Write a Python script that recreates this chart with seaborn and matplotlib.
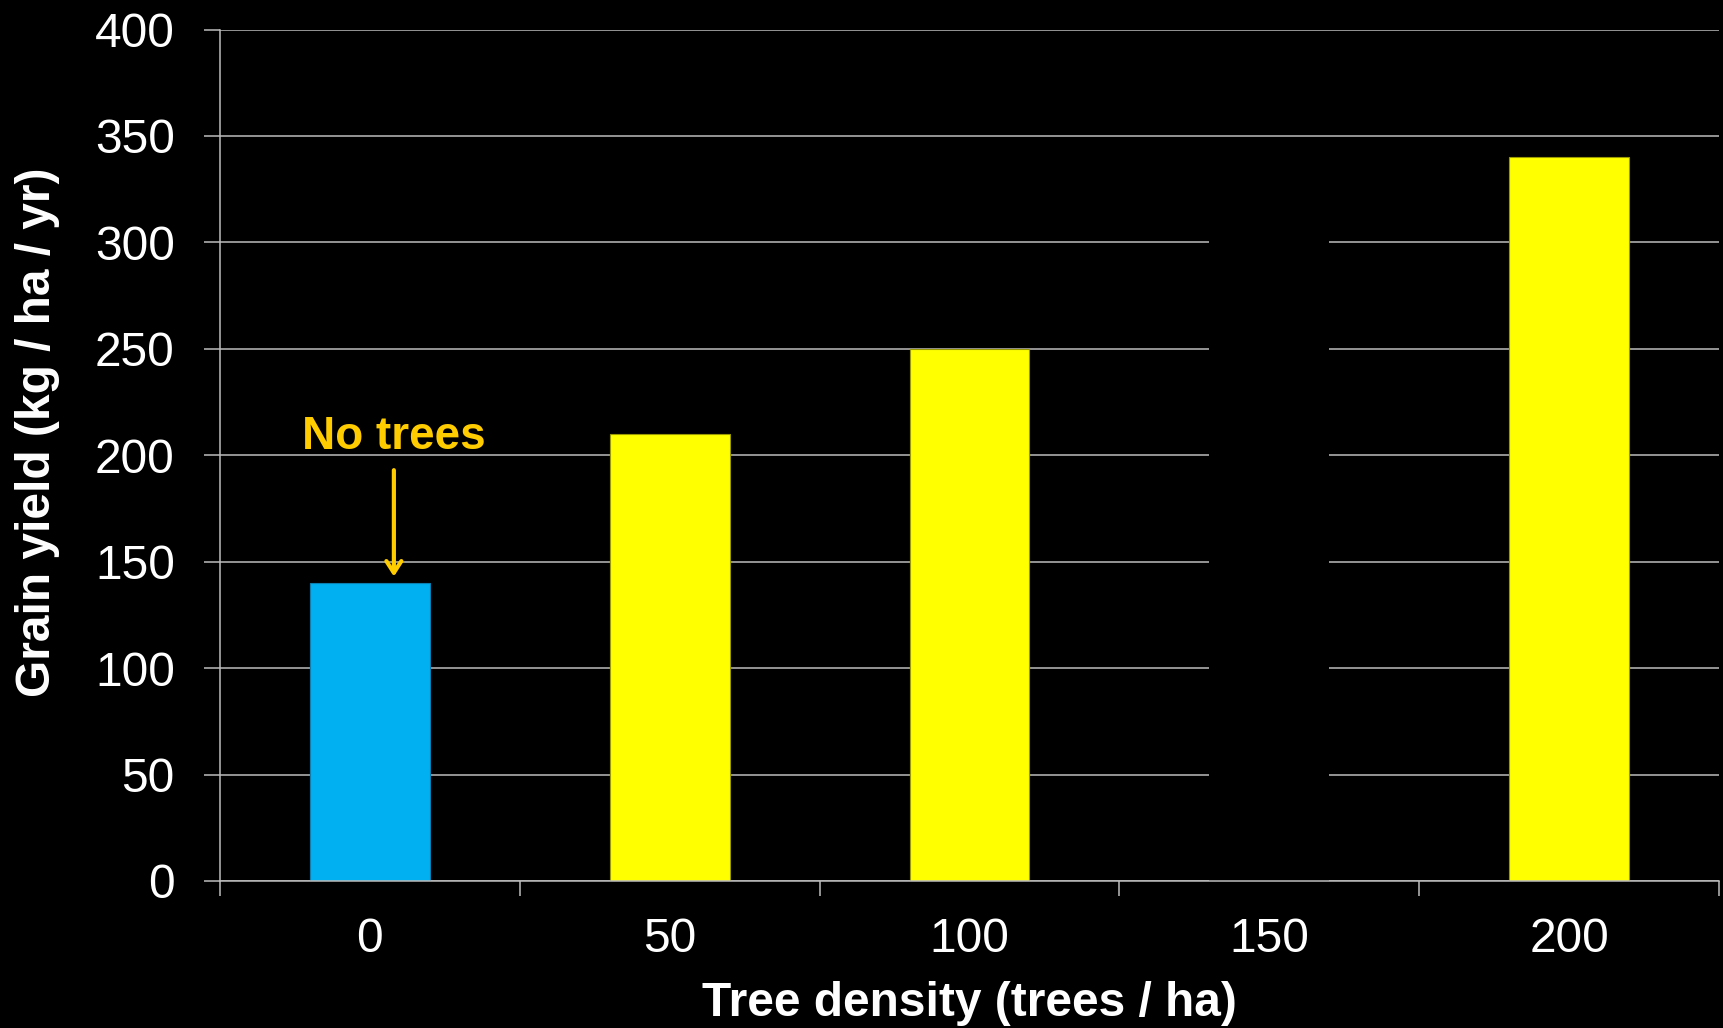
import matplotlib
matplotlib.use("Agg")
import matplotlib.pyplot as plt
import seaborn as sns
import pandas as pd
from matplotlib.ticker import FixedLocator

# Data
densities = ["0", "50", "100", "150", "200"]
grain_yield = [140, 210, 250, 320, 340]
bar_colors = ["#00B0F0", "#FFFF00", "#FFFF00", "#000000", "#FFFF00"]
y_ticks = [0, 50, 100, 150, 200, 250, 300, 350, 400]

sns.set_theme(style="dark")
plt.rcParams["font.family"] = ["Liberation Sans", "DejaVu Sans"]

df = pd.DataFrame({"density": densities, "yield": grain_yield})

fig = plt.figure(figsize=(17.24, 10.28), dpi=100, facecolor="black")
ax = fig.add_axes([0.1276, 0.143, 0.8695, 0.8283])
ax.set_facecolor("black")

sns.barplot(data=df, x="density", y="yield", hue="density",
            palette=bar_colors, width=0.4, legend=False, ax=ax,
            saturation=1, zorder=2)

for patch, col in zip(ax.patches, bar_colors):
    if col == "#FFFF00":
        patch.set_edgecolor("#9a9a00")
        patch.set_linewidth(0.8)
    elif col == "#00B0F0":
        patch.set_edgecolor("#0a7fb0")
        patch.set_linewidth(0.8)
    else:
        patch.set_edgecolor("none")

ax.set_xlim(-0.5, 4.5)
ax.set_ylim(0, 400)
ax.set_yticks(y_ticks)

grid_col = "#bdbdbd"
ax.yaxis.grid(True, color=grid_col, linewidth=1.1)
ax.xaxis.grid(False)
ax.set_axisbelow(True)

for side in ["top", "right"]:
    ax.spines[side].set_visible(False)
for side in ["left", "bottom"]:
    ax.spines[side].set_visible(True)
    ax.spines[side].set_color(grid_col)
    ax.spines[side].set_linewidth(1.1)
    ax.spines[side].set_zorder(4)

# category boundaries carry the tick marks; labels sit at bar centres
ax.xaxis.set_minor_locator(FixedLocator([-0.5, 0.5, 1.5, 2.5, 3.5, 4.5]))
ax.tick_params(axis="x", which="minor", length=11, width=1.1, color=grid_col,
               direction="out", bottom=True)
ax.tick_params(axis="x", which="major", length=0, pad=26, labelsize=34.5,
               labelcolor="white")
ax.tick_params(axis="y", which="major", length=11.5, width=1.1, color=grid_col,
               direction="out", left=True, pad=21, labelsize=34.5,
               labelcolor="white")

ax.set_xlabel("Tree density (trees / ha)", fontsize=34.5, fontweight="bold",
              color="white")
ax.set_ylabel("Grain yield (kg / ha / yr)", fontsize=34.5, fontweight="bold",
              color="white")
ax.xaxis.set_label_coords(0.5, -0.118)
ax.yaxis.set_label_coords(-0.107, 0.527)

gold = "#FFCC00"
ax.text(0.08, 208.5, "No trees", ha="center", va="center", color=gold,
        fontsize=33, fontweight="bold",
        family=["Liberation Sans Narrow", "Liberation Sans", "DejaVu Sans"],
        zorder=5)
ax.annotate("", xy=(0.08, 143), xytext=(0.08, 193),
            arrowprops=dict(arrowstyle="->,head_length=0.7,head_width=0.45",
                            color=gold, lw=3, shrinkA=0, shrinkB=0),
            zorder=5)

fig.savefig("out.png", dpi=100, facecolor="black")
